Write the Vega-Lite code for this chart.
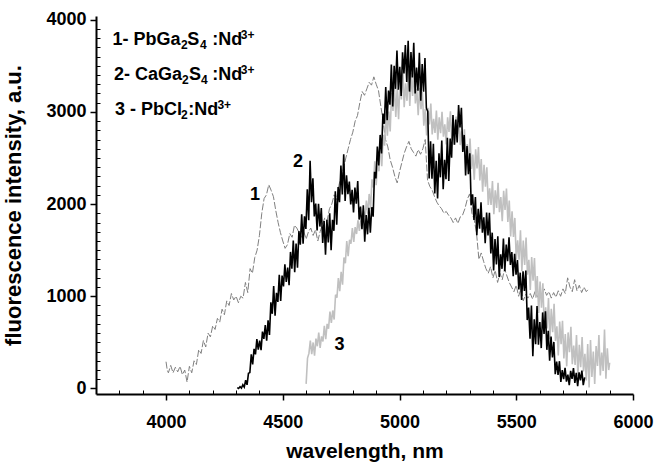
{
"$schema": "https://vega.github.io/schema/vega-lite/v6.json",
"width": 537, "height": 378,
"autosize": {"type": "none"},
"padding": {"left": 96, "top": 16, "right": 21, "bottom": 69},
"background": "white",
"config": {"view": {"stroke": null}, "axis": {"grid": false, "labelOverlap": false, "labelFont": "Liberation Sans", "titleFont": "Liberation Sans", "domainColor": "black", "tickColor": "black", "labelColor": "black", "titleColor": "black"}},
"datasets": {
"d1": [{"w":4000,"v":290},{"w":4005,"v":200},{"w":4010,"v":170},{"w":4020,"v":250},{"w":4030,"v":170},{"w":4040,"v":230},{"w":4050,"v":180},{"w":4060,"v":240},{"w":4070,"v":150},{"w":4080,"v":200},{"w":4090,"v":70},{"w":4100,"v":240},{"w":4110,"v":170},{"w":4120,"v":300},{"w":4130,"v":260},{"w":4140,"v":420},{"w":4150,"v":380},{"w":4160,"v":520},{"w":4170,"v":450},{"w":4180,"v":600},{"w":4190,"v":560},{"w":4200,"v":680},{"w":4210,"v":640},{"w":4220,"v":760},{"w":4230,"v":720},{"w":4240,"v":860},{"w":4250,"v":800},{"w":4260,"v":950},{"w":4270,"v":900},{"w":4280,"v":1030},{"w":4290,"v":960},{"w":4300,"v":1000},{"w":4310,"v":930},{"w":4320,"v":1000},{"w":4330,"v":980},{"w":4340,"v":1150},{"w":4350,"v":1040},{"w":4360,"v":1300},{"w":4370,"v":1250},{"w":4380,"v":1420},{"w":4390,"v":1500},{"w":4400,"v":1660},{"w":4410,"v":1900},{"w":4420,"v":2060},{"w":4430,"v":2100},{"w":4440,"v":2210},{"w":4450,"v":2150},{"w":4460,"v":2080},{"w":4470,"v":1930},{"w":4480,"v":1800},{"w":4490,"v":1690},{"w":4500,"v":1600},{"w":4510,"v":1520},{"w":4520,"v":1560},{"w":4530,"v":1680},{"w":4540,"v":1640},{"w":4550,"v":1770},{"w":4560,"v":1740},{"w":4570,"v":1690},{"w":4580,"v":1640},{"w":4590,"v":1700},{"w":4600,"v":1620},{"w":4610,"v":1700},{"w":4620,"v":1740},{"w":4630,"v":1660},{"w":4640,"v":1720},{"w":4650,"v":1600},{"w":4660,"v":1700},{"w":4670,"v":1780},{"w":4680,"v":1850},{"w":4690,"v":1820},{"w":4700,"v":1950},{"w":4710,"v":2000},{"w":4720,"v":2100},{"w":4730,"v":2050},{"w":4740,"v":2200},{"w":4750,"v":2300},{"w":4760,"v":2380},{"w":4770,"v":2500},{"w":4780,"v":2600},{"w":4790,"v":2700},{"w":4800,"v":2780},{"w":4810,"v":2900},{"w":4820,"v":2960},{"w":4830,"v":3100},{"w":4840,"v":3220},{"w":4850,"v":3180},{"w":4860,"v":3250},{"w":4870,"v":3320},{"w":4880,"v":3290},{"w":4890,"v":3380},{"w":4900,"v":3300},{"w":4910,"v":3230},{"w":4920,"v":3060},{"w":4930,"v":2900},{"w":4940,"v":2700},{"w":4950,"v":2620},{"w":4960,"v":2480},{"w":4970,"v":2400},{"w":4980,"v":2300},{"w":4990,"v":2230},{"w":5000,"v":2350},{"w":5010,"v":2450},{"w":5020,"v":2550},{"w":5030,"v":2620},{"w":5040,"v":2680},{"w":5050,"v":2600},{"w":5060,"v":2560},{"w":5070,"v":2520},{"w":5080,"v":2590},{"w":5090,"v":2540},{"w":5100,"v":2600},{"w":5110,"v":2700},{"w":5120,"v":2260},{"w":5130,"v":2190},{"w":5140,"v":2150},{"w":5150,"v":2080},{"w":5160,"v":2020},{"w":5170,"v":1980},{"w":5180,"v":1950},{"w":5190,"v":1900},{"w":5200,"v":1920},{"w":5210,"v":1880},{"w":5220,"v":1850},{"w":5230,"v":1800},{"w":5240,"v":1850},{"w":5250,"v":1790},{"w":5260,"v":1860},{"w":5270,"v":1880},{"w":5280,"v":1950},{"w":5290,"v":2050},{"w":5300,"v":2110},{"w":5310,"v":1900},{"w":5320,"v":1830},{"w":5330,"v":1680},{"w":5340,"v":1400},{"w":5350,"v":1470},{"w":5360,"v":1380},{"w":5370,"v":1300},{"w":5380,"v":1250},{"w":5390,"v":1320},{"w":5400,"v":1200},{"w":5410,"v":1280},{"w":5420,"v":1150},{"w":5430,"v":1250},{"w":5440,"v":1180},{"w":5450,"v":1300},{"w":5460,"v":1220},{"w":5470,"v":1150},{"w":5480,"v":1100},{"w":5490,"v":1050},{"w":5500,"v":1120},{"w":5510,"v":1000},{"w":5520,"v":1080},{"w":5530,"v":950},{"w":5540,"v":1020},{"w":5550,"v":980},{"w":5560,"v":1030},{"w":5570,"v":970},{"w":5580,"v":1050},{"w":5590,"v":990},{"w":5600,"v":1060},{"w":5610,"v":1000},{"w":5620,"v":1080},{"w":5630,"v":1010},{"w":5640,"v":1050},{"w":5650,"v":980},{"w":5660,"v":1040},{"w":5670,"v":990},{"w":5680,"v":1060},{"w":5690,"v":1000},{"w":5700,"v":1080},{"w":5710,"v":1030},{"w":5720,"v":1200},{"w":5730,"v":1100},{"w":5740,"v":1050},{"w":5750,"v":1180},{"w":5760,"v":1060},{"w":5770,"v":1120},{"w":5780,"v":1040},{"w":5790,"v":1100},{"w":5800,"v":1050},{"w":5810,"v":1080}],
"d2": [{"w":4305,"v":10},{"w":4311,"v":0},{"w":4317,"v":20},{"w":4323,"v":5},{"w":4329,"v":40},{"w":4335,"v":15},{"w":4341,"v":90},{"w":4347,"v":40},{"w":4353,"v":164},{"w":4359,"v":172},{"w":4365,"v":370},{"w":4371,"v":260},{"w":4377,"v":430},{"w":4383,"v":370},{"w":4389,"v":535},{"w":4395,"v":420},{"w":4401,"v":520},{"w":4407,"v":416},{"w":4413,"v":617},{"w":4419,"v":537},{"w":4425,"v":688},{"w":4431,"v":519},{"w":4437,"v":740},{"w":4443,"v":580},{"w":4449,"v":934},{"w":4455,"v":810},{"w":4461,"v":1110},{"w":4467,"v":790},{"w":4473,"v":1038},{"w":4479,"v":939},{"w":4485,"v":1234},{"w":4491,"v":948},{"w":4497,"v":1225},{"w":4503,"v":1106},{"w":4509,"v":1347},{"w":4515,"v":1155},{"w":4521,"v":1311},{"w":4527,"v":1120},{"w":4533,"v":1481},{"w":4539,"v":1300},{"w":4545,"v":1605},{"w":4551,"v":1262},{"w":4557,"v":1572},{"w":4563,"v":1310},{"w":4569,"v":1706},{"w":4575,"v":1560},{"w":4581,"v":1890},{"w":4587,"v":1570},{"w":4593,"v":1868},{"w":4599,"v":1730},{"w":4605,"v":2160},{"w":4611,"v":1825},{"w":4617,"v":2470},{"w":4623,"v":2020},{"w":4629,"v":2280},{"w":4635,"v":1865},{"w":4641,"v":2006},{"w":4647,"v":1713},{"w":4653,"v":2004},{"w":4659,"v":1756},{"w":4665,"v":1958},{"w":4671,"v":1579},{"w":4677,"v":1816},{"w":4683,"v":1450},{"w":4689,"v":1830},{"w":4695,"v":1585},{"w":4701,"v":1900},{"w":4707,"v":1500},{"w":4713,"v":1830},{"w":4719,"v":1710},{"w":4725,"v":2140},{"w":4731,"v":1775},{"w":4737,"v":2185},{"w":4743,"v":2020},{"w":4749,"v":2417},{"w":4755,"v":2105},{"w":4761,"v":2540},{"w":4767,"v":2033},{"w":4773,"v":2313},{"w":4779,"v":2108},{"w":4785,"v":2245},{"w":4791,"v":1995},{"w":4797,"v":2154},{"w":4803,"v":1910},{"w":4809,"v":2178},{"w":4815,"v":2003},{"w":4821,"v":2250},{"w":4827,"v":1832},{"w":4833,"v":1973},{"w":4839,"v":1728},{"w":4845,"v":1986},{"w":4851,"v":1592},{"w":4857,"v":1880},{"w":4863,"v":1672},{"w":4869,"v":1959},{"w":4875,"v":1690},{"w":4881,"v":1966},{"w":4887,"v":1863},{"w":4893,"v":2350},{"w":4899,"v":2278},{"w":4905,"v":2625},{"w":4911,"v":2420},{"w":4917,"v":2750},{"w":4923,"v":2550},{"w":4929,"v":2982},{"w":4935,"v":2871},{"w":4941,"v":3270},{"w":4947,"v":2910},{"w":4953,"v":3232},{"w":4959,"v":3078},{"w":4965,"v":3514},{"w":4971,"v":3059},{"w":4977,"v":3500},{"w":4983,"v":3250},{"w":4989,"v":3665},{"w":4995,"v":3240},{"w":5001,"v":3490},{"w":5007,"v":3173},{"w":5013,"v":3646},{"w":5019,"v":3416},{"w":5025,"v":3724},{"w":5031,"v":3325},{"w":5037,"v":3770},{"w":5043,"v":3220},{"w":5049,"v":3648},{"w":5055,"v":3373},{"w":5061,"v":3750},{"w":5067,"v":3200},{"w":5073,"v":3480},{"w":5079,"v":3230},{"w":5085,"v":3640},{"w":5091,"v":3120},{"w":5097,"v":3520},{"w":5103,"v":3220},{"w":5109,"v":3585},{"w":5115,"v":3040},{"w":5121,"v":3005},{"w":5127,"v":2277},{"w":5133,"v":2680},{"w":5139,"v":2274},{"w":5145,"v":2655},{"w":5151,"v":2116},{"w":5157,"v":2470},{"w":5163,"v":2060},{"w":5169,"v":2550},{"w":5175,"v":2290},{"w":5181,"v":2690},{"w":5187,"v":2160},{"w":5193,"v":2480},{"w":5199,"v":2270},{"w":5205,"v":2720},{"w":5211,"v":2250},{"w":5217,"v":2710},{"w":5223,"v":2504},{"w":5229,"v":2966},{"w":5235,"v":2645},{"w":5241,"v":2918},{"w":5247,"v":2668},{"w":5253,"v":3075},{"w":5259,"v":2830},{"w":5265,"v":3045},{"w":5271,"v":2565},{"w":5277,"v":2750},{"w":5283,"v":2310},{"w":5289,"v":2630},{"w":5295,"v":2325},{"w":5301,"v":2550},{"w":5307,"v":1988},{"w":5313,"v":2106},{"w":5319,"v":1828},{"w":5325,"v":2076},{"w":5331,"v":1662},{"w":5337,"v":1950},{"w":5343,"v":1732},{"w":5349,"v":2019},{"w":5355,"v":1690},{"w":5361,"v":1856},{"w":5367,"v":1575},{"w":5373,"v":1908},{"w":5379,"v":1660},{"w":5385,"v":1905},{"w":5391,"v":1465},{"w":5397,"v":1690},{"w":5403,"v":1280},{"w":5409,"v":1620},{"w":5415,"v":1345},{"w":5421,"v":1650},{"w":5427,"v":1208},{"w":5433,"v":1456},{"w":5439,"v":1298},{"w":5445,"v":1626},{"w":5451,"v":1271},{"w":5457,"v":1562},{"w":5463,"v":1380},{"w":5469,"v":1640},{"w":5475,"v":1340},{"w":5481,"v":1480},{"w":5487,"v":1218},{"w":5493,"v":1460},{"w":5499,"v":1234},{"w":5505,"v":1392},{"w":5511,"v":1074},{"w":5517,"v":1256},{"w":5523,"v":960},{"w":5529,"v":1270},{"w":5535,"v":1057},{"w":5541,"v":1280},{"w":5547,"v":742},{"w":5553,"v":878},{"w":5559,"v":540},{"w":5565,"v":900},{"w":5571,"v":350},{"w":5577,"v":750},{"w":5583,"v":480},{"w":5589,"v":895},{"w":5595,"v":475},{"w":5601,"v":721},{"w":5607,"v":438},{"w":5613,"v":825},{"w":5619,"v":590},{"w":5625,"v":836},{"w":5631,"v":419},{"w":5637,"v":626},{"w":5643,"v":300},{"w":5649,"v":564},{"w":5655,"v":336},{"w":5661,"v":505},{"w":5667,"v":154},{"w":5673,"v":292},{"w":5679,"v":146},{"w":5685,"v":296},{"w":5691,"v":71},{"w":5697,"v":200},{"w":5703,"v":100},{"w":5709,"v":225},{"w":5715,"v":75},{"w":5721,"v":150},{"w":5727,"v":35},{"w":5733,"v":190},{"w":5739,"v":105},{"w":5745,"v":220},{"w":5751,"v":60},{"w":5757,"v":170},{"w":5763,"v":25},{"w":5769,"v":174},{"w":5775,"v":88},{"w":5781,"v":195},{"w":5787,"v":36},{"w":5793,"v":120}],
"d3": [{"w":4600,"v":50},{"w":4606,"v":330},{"w":4612,"v":380},{"w":4618,"v":520},{"w":4624,"v":372},{"w":4630,"v":499},{"w":4636,"v":355},{"w":4642,"v":541},{"w":4648,"v":458},{"w":4654,"v":605},{"w":4660,"v":440},{"w":4666,"v":565},{"w":4672,"v":510},{"w":4678,"v":680},{"w":4684,"v":535},{"w":4690,"v":700},{"w":4696,"v":648},{"w":4702,"v":835},{"w":4708,"v":712},{"w":4714,"v":846},{"w":4720,"v":748},{"w":4726,"v":1017},{"w":4732,"v":984},{"w":4738,"v":1197},{"w":4744,"v":1056},{"w":4750,"v":1266},{"w":4756,"v":1125},{"w":4762,"v":1420},{"w":4768,"v":1358},{"w":4774,"v":1600},{"w":4780,"v":1434},{"w":4786,"v":1612},{"w":4792,"v":1570},{"w":4798,"v":1740},{"w":4804,"v":1590},{"w":4810,"v":1750},{"w":4816,"v":1675},{"w":4822,"v":1825},{"w":4828,"v":1710},{"w":4834,"v":1820},{"w":4840,"v":1735},{"w":4846,"v":1920},{"w":4852,"v":1858},{"w":4858,"v":2038},{"w":4864,"v":1895},{"w":4870,"v":2110},{"w":4876,"v":1950},{"w":4882,"v":2269},{"w":4888,"v":2179},{"w":4894,"v":2465},{"w":4900,"v":2206},{"w":4906,"v":2447},{"w":4912,"v":2356},{"w":4918,"v":2686},{"w":4924,"v":2410},{"w":4930,"v":2752},{"w":4936,"v":2634},{"w":4942,"v":3004},{"w":4948,"v":2742},{"w":4954,"v":3003},{"w":4960,"v":2788},{"w":4966,"v":3205},{"w":4972,"v":3010},{"w":4978,"v":3315},{"w":4984,"v":2945},{"w":4990,"v":3250},{"w":4996,"v":2920},{"w":5002,"v":3340},{"w":5008,"v":3135},{"w":5014,"v":3480},{"w":5020,"v":3050},{"w":5026,"v":3310},{"w":5032,"v":3120},{"w":5038,"v":3480},{"w":5044,"v":3065},{"w":5050,"v":3425},{"w":5056,"v":3172},{"w":5062,"v":3468},{"w":5068,"v":3092},{"w":5074,"v":3249},{"w":5080,"v":2963},{"w":5086,"v":3260},{"w":5092,"v":3028},{"w":5098,"v":3214},{"w":5104,"v":2850},{"w":5110,"v":3030},{"w":5116,"v":2745},{"w":5122,"v":3044},{"w":5128,"v":2865},{"w":5134,"v":3090},{"w":5140,"v":2756},{"w":5146,"v":2926},{"w":5152,"v":2772},{"w":5158,"v":3014},{"w":5164,"v":2698},{"w":5170,"v":2940},{"w":5176,"v":2768},{"w":5182,"v":3001},{"w":5188,"v":2730},{"w":5194,"v":2864},{"w":5200,"v":2647},{"w":5206,"v":2940},{"w":5212,"v":2782},{"w":5218,"v":3006},{"w":5224,"v":2700},{"w":5230,"v":2930},{"w":5236,"v":2640},{"w":5242,"v":2950},{"w":5248,"v":2760},{"w":5254,"v":3010},{"w":5260,"v":2640},{"w":5266,"v":2790},{"w":5272,"v":2580},{"w":5278,"v":2810},{"w":5284,"v":2420},{"w":5290,"v":2650},{"w":5296,"v":2448},{"w":5302,"v":2710},{"w":5308,"v":2382},{"w":5314,"v":2536},{"w":5320,"v":2263},{"w":5326,"v":2594},{"w":5332,"v":2386},{"w":5338,"v":2618},{"w":5344,"v":2256},{"w":5350,"v":2488},{"w":5356,"v":2135},{"w":5362,"v":2426},{"w":5368,"v":2188},{"w":5374,"v":2400},{"w":5380,"v":1990},{"w":5386,"v":2170},{"w":5392,"v":1990},{"w":5398,"v":2250},{"w":5404,"v":1890},{"w":5410,"v":2150},{"w":5416,"v":1958},{"w":5422,"v":2230},{"w":5428,"v":1912},{"w":5434,"v":2076},{"w":5440,"v":1813},{"w":5446,"v":2144},{"w":5452,"v":1936},{"w":5458,"v":2168},{"w":5464,"v":1806},{"w":5470,"v":2038},{"w":5476,"v":1650},{"w":5482,"v":1922},{"w":5488,"v":1644},{"w":5494,"v":1850},{"w":5500,"v":1396},{"w":5506,"v":1607},{"w":5512,"v":1396},{"w":5518,"v":1716},{"w":5524,"v":1275},{"w":5530,"v":1605},{"w":5536,"v":1340},{"w":5542,"v":1638},{"w":5548,"v":1235},{"w":5554,"v":1395},{"w":5560,"v":1068},{"w":5566,"v":1425},{"w":5572,"v":1170},{"w":5578,"v":1415},{"w":5584,"v":985},{"w":5590,"v":1220},{"w":5596,"v":820},{"w":5602,"v":1160},{"w":5608,"v":875},{"w":5614,"v":1140},{"w":5620,"v":650},{"w":5626,"v":880},{"w":5632,"v":650},{"w":5638,"v":980},{"w":5644,"v":535},{"w":5650,"v":865},{"w":5656,"v":610},{"w":5662,"v":918},{"w":5668,"v":515},{"w":5674,"v":675},{"w":5680,"v":358},{"w":5686,"v":725},{"w":5692,"v":480},{"w":5698,"v":735},{"w":5704,"v":325},{"w":5710,"v":590},{"w":5716,"v":240},{"w":5722,"v":608},{"w":5728,"v":394},{"w":5734,"v":670},{"w":5740,"v":264},{"w":5746,"v":466},{"w":5752,"v":256},{"w":5758,"v":580},{"w":5764,"v":135},{"w":5770,"v":475},{"w":5776,"v":230},{"w":5782,"v":558},{"w":5788,"v":185},{"w":5794,"v":375},{"w":5800,"v":88},{"w":5806,"v":482},{"w":5812,"v":10},{"w":5818,"v":525},{"w":5824,"v":125},{"w":5830,"v":400},{"w":5836,"v":50},{"w":5842,"v":460},{"w":5848,"v":245},{"w":5854,"v":580},{"w":5860,"v":140},{"w":5866,"v":390},{"w":5872,"v":190},{"w":5878,"v":640},{"w":5884,"v":105},{"w":5890,"v":435},{"w":5896,"v":200},{"w":5900,"v":280}],
"legend": [
 {"w":3771,"v":3724,"t":"1- PbGa","k":"main"},{"w":4064,"v":3724,"t":"2","k":"sub"},{"w":4091,"v":3724,"t":"S","k":"main"},{"w":4145,"v":3724,"t":"4","k":"sub"},{"w":4198,"v":3724,"t":":Nd","k":"main"},{"w":4320,"v":3724,"t":"3+","k":"sup"},
 {"w":3777,"v":3344,"t":"2- CaGa","k":"main"},{"w":4068,"v":3344,"t":"2","k":"sub"},{"w":4098,"v":3344,"t":"S","k":"main"},{"w":4150,"v":3344,"t":"4","k":"sub"},{"w":4198,"v":3344,"t":":Nd","k":"main"},{"w":4320,"v":3344,"t":"3+","k":"sup"},
 {"w":3781,"v":2965,"t":"3 - PbCl","k":"main"},{"w":4064,"v":2965,"t":"2","k":"sub"},{"w":4095,"v":2965,"t":":Nd","k":"main"},{"w":4220,"v":2965,"t":"3+","k":"sup"}],
"curvelabels": [{"w":4381,"v":2043,"t":"1"},{"w":4565,"v":2401,"t":"2"},{"w":4743,"v":417,"t":"3"}]
},
"layer": [
{"data": {"name": "d1"},
 "mark": {"type": "line", "color": "#808080", "strokeWidth": 1, "strokeDash": [7, 2]},
 "encoding": {
  "x": {"field": "w", "type": "quantitative", "scale": {"domain": [3700, 6000], "nice": false, "zero": false},
        "axis": {"orient": "bottom", "tickCount": 200, "values": [3800,3900,4000,4100,4200,4300,4400,4500,4600,4700,4800,4900,5000,5100,5200,5300,5400,5500,5600,5700,5800,5900,6000],
                 "labelExpr": "datum.value % 500 === 0 ? format(datum.value, 'd') : ''",
                 "title": "wavelength, nm", "labelFontSize": 18, "labelFontWeight": "bold", "titleFontSize": 21, "titleFontWeight": "bold",
                 "tickSize": {"condition": {"test": "datum.value % 500 === 0", "value": 6}, "value": -4},
                 "tickWidth": {"condition": {"test": "datum.value % 500 === 0", "value": 1.5}, "value": 1},
                 "labelPadding": {"condition": {"test": "datum.value % 500 === 0", "value": 13}, "value": 23},
                 "domainWidth": 2, "titlePadding": 9, "labelFlush": false, "labelOverlap": false}},
  "y": {"field": "v", "type": "quantitative", "scale": {"domain": [-60, 4040], "nice": false, "zero": false},
        "axis": {"orient": "left", "tickCount": 200, "values": [0,100,200,300,400,500,600,700,800,900,1000,1100,1200,1300,1400,1500,1600,1700,1800,1900,2000,2100,2200,2300,2400,2500,2600,2700,2800,2900,3000,3100,3200,3300,3400,3500,3600,3700,3800,3900,4000],
                 "labelExpr": "datum.value % 1000 === 0 ? format(datum.value, 'd') : ''",
                 "title": "fluorescence intensity, a.u.", "labelFontSize": 18, "labelFontWeight": "bold", "titleFontSize": 22, "titleFontWeight": "bold",
                 "tickSize": {"condition": {"test": "datum.value % 1000 === 0", "value": 6}, "value": -4},
                 "tickWidth": {"condition": {"test": "datum.value % 1000 === 0", "value": 1.5}, "value": 1},
                 "labelPadding": {"condition": {"test": "datum.value % 1000 === 0", "value": 4}, "value": 14},
                 "domainWidth": 2, "titlePadding": 20, "labelFlush": false, "labelOverlap": false}}
 }},
{"data": {"name": "d3"},
 "mark": {"type": "line", "color": "#c0c0c0", "strokeWidth": 1.6},
 "encoding": {
  "x": {"field": "w", "type": "quantitative"},
  "y": {"field": "v", "type": "quantitative"}
 }},
{"data": {"name": "d2"},
 "mark": {"type": "line", "color": "#000000", "strokeWidth": 1.6},
 "encoding": {
  "x": {"field": "w", "type": "quantitative"},
  "y": {"field": "v", "type": "quantitative"}
 }},
{"data": {"name": "legend"},
 "transform": [{"filter": "datum.k === 'main'"}],
 "mark": {"type": "text", "align": "left", "baseline": "alphabetic", "font": "Liberation Sans", "fontWeight": "bold", "fontSize": 18, "color": "black"},
 "encoding": {
  "x": {"field": "w", "type": "quantitative"},
  "y": {"field": "v", "type": "quantitative"},
  "text": {"field": "t"}
 }},
{"data": {"name": "legend"},
 "transform": [{"filter": "datum.k === 'sub'"}],
 "mark": {"type": "text", "align": "left", "baseline": "alphabetic", "font": "Liberation Sans", "fontWeight": "bold", "fontSize": 12, "dy": 4, "color": "black"},
 "encoding": {
  "x": {"field": "w", "type": "quantitative"},
  "y": {"field": "v", "type": "quantitative"},
  "text": {"field": "t"}
 }},
{"data": {"name": "legend"},
 "transform": [{"filter": "datum.k === 'sup'"}],
 "mark": {"type": "text", "align": "left", "baseline": "alphabetic", "font": "Liberation Sans", "fontWeight": "bold", "fontSize": 12, "dy": -6, "color": "black"},
 "encoding": {
  "x": {"field": "w", "type": "quantitative"},
  "y": {"field": "v", "type": "quantitative"},
  "text": {"field": "t"}
 }},
{"data": {"name": "curvelabels"},
 "mark": {"type": "text", "align": "center", "baseline": "alphabetic", "font": "Liberation Sans", "fontWeight": "bold", "fontSize": 18, "color": "black"},
 "encoding": {
  "x": {"field": "w", "type": "quantitative"},
  "y": {"field": "v", "type": "quantitative"},
  "text": {"field": "t"}
 }}
]
}
